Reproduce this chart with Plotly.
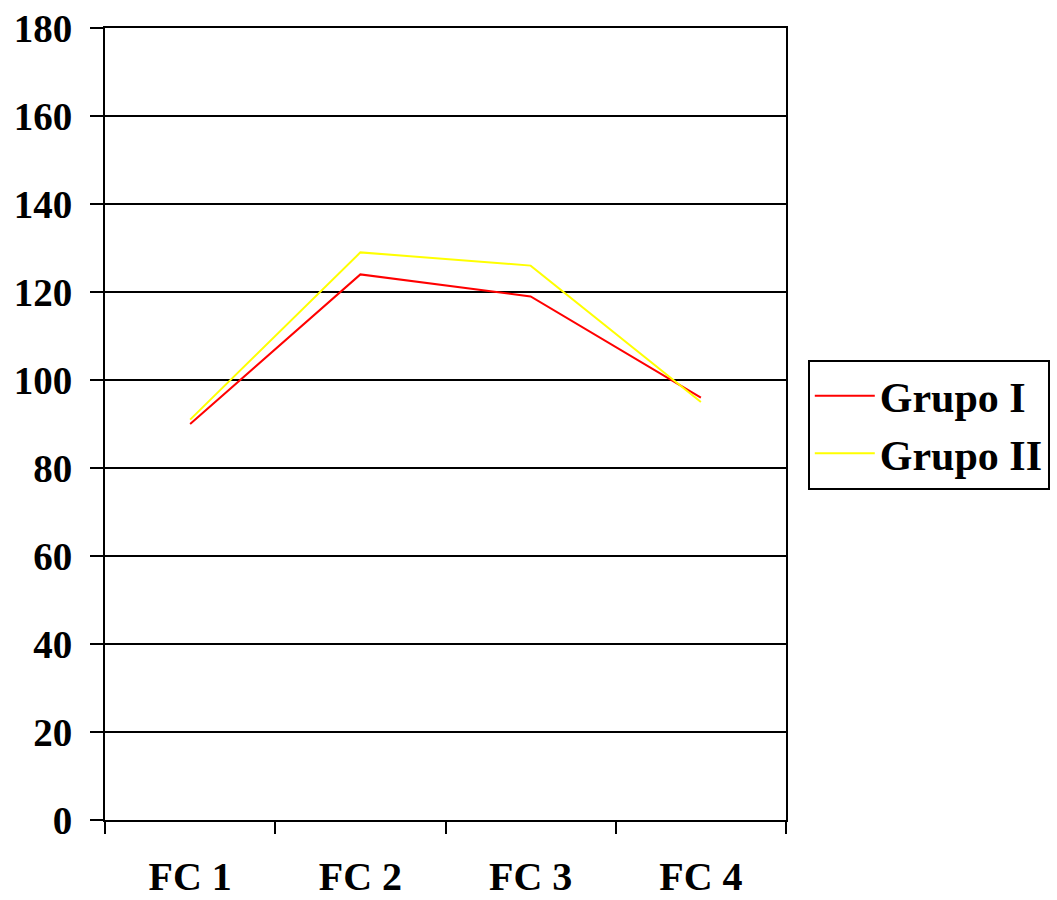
import plotly.graph_objects as go

categories = ["FC 1", "FC 2", "FC 3", "FC 4"]
grupo_i = [90, 124, 119, 96]
grupo_ii = [91, 129, 126, 95]
y_ticks = [0, 20, 40, 60, 80, 100, 120, 140, 160, 180]

FONT = "Liberation Serif"

fig = go.Figure()
fig.add_trace(go.Scatter(x=categories, y=grupo_i, mode="lines", name="Grupo I",
                         line=dict(color="#FF0000", width=2)))
fig.add_trace(go.Scatter(x=categories, y=grupo_ii, mode="lines", name="Grupo II",
                         line=dict(color="#FFFF00", width=2)))

fig.update_layout(
    width=1057, height=900,
    margin=dict(l=105, r=271, t=28, b=80, autoexpand=False),
    paper_bgcolor="white", plot_bgcolor="white",
    font=dict(family=FONT, size=40, color="black"),
    showlegend=True,
    legend=dict(
        x=1.032, y=0.581, xanchor="left", yanchor="top",
        bordercolor="black", borderwidth=2, bgcolor="white",
        font=dict(family=FONT, size=42, color="black", weight="bold"),
        tracegroupgap=0, itemwidth=60,
    ),
)
fig.update_xaxes(
    type="category", range=[-0.5, 3.5], automargin=False,
    tickson="boundaries", ticks="outside", ticklen=12, tickwidth=2, tickcolor="black",
    showline=True, linecolor="black", linewidth=2, mirror=True,
    showgrid=False, zeroline=False,
    tickfont=dict(family=FONT, size=40, color="black", weight="bold"),
    ticklabelstandoff=20,
)
fig.update_yaxes(
    range=[0, 180], tickvals=y_ticks, automargin=False,
    ticks="outside", ticklen=13, tickwidth=2, tickcolor="black",
    showline=True, linecolor="black", linewidth=2, mirror=True,
    showgrid=True, gridcolor="black", gridwidth=2, zeroline=False,
    tickfont=dict(family=FONT, size=39, color="black", weight="bold"),
    ticklabelstandoff=10,
)

fig.write_html("out.html")
